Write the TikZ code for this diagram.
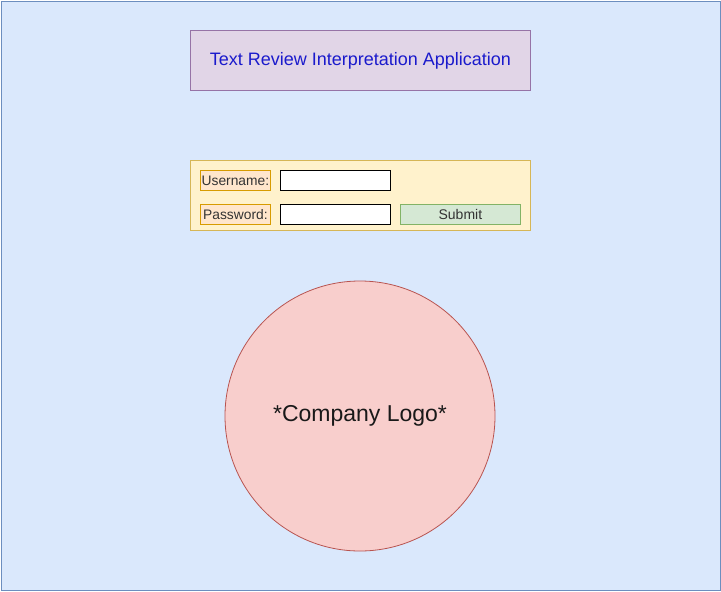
\documentclass[tikz,border=0pt]{standalone}
\usepackage{fontspec}
\setmainfont{Liberation Sans}
\begin{document}
\begin{tikzpicture}[x=1pt,y=-1pt,
  box/.style={draw, line width=0.8pt, inner sep=0pt, anchor=north west},
  lbl/.style={box, fill=labelfill, draw=labeldraw, minimum width=70pt, minimum height=20pt, font=\fontsize{13.8}{15}\selectfont, text=textgray},
  field/.style={box, fill=white, draw=black, minimum width=110pt, minimum height=20pt}]
\definecolor{bgfill}{HTML}{DAE8FC}
\definecolor{bgdraw}{HTML}{6C8EBF}
\definecolor{titlefill}{HTML}{E1D5E7}
\definecolor{titledraw}{HTML}{9673A6}
\definecolor{titletext}{HTML}{1A1ACC}
\definecolor{formfill}{HTML}{FFF2CC}
\definecolor{formdraw}{HTML}{D6B656}
\definecolor{labelfill}{HTML}{FFE6CC}
\definecolor{labeldraw}{HTML}{D79B00}
\definecolor{btnfill}{HTML}{D5E8D4}
\definecolor{btndraw}{HTML}{82B366}
\definecolor{logofill}{HTML}{F8CECC}
\definecolor{logodraw}{HTML}{B85450}
\definecolor{textgray}{HTML}{333333}
\useasboundingbox (0,0) rectangle (721,592);
% page background
\node[box, fill=bgfill, draw=bgdraw, line width=1.2pt, minimum width=719.5pt, minimum height=589.5pt] (page) at (0.6,0.6) {};
% title banner
\node[box, fill=titlefill, draw=titledraw, minimum width=340pt, minimum height=60pt,
  text=titletext, font=\fontsize{18}{21}\selectfont] (title) at (190,30) {\raisebox{-0.5pt}{Text Review Interpretation Application}};
% login form
\node[box, fill=formfill, draw=formdraw, minimum width=340pt, minimum height=70pt] (form) at (190,160) {};
\node[lbl] (ulabel) at (200,170) {Username:};
\node[lbl] (plabel) at (200,204) {Password:};
\node[field] (ufield) at (280,170) {};
\node[field] (pfield) at (280,204) {};
\node[box, fill=btnfill, draw=btndraw, minimum width=120pt, minimum height=20pt,
  font=\fontsize{14}{16}\selectfont, text=textgray] (submit) at (400,204) {Submit};
% logo placeholder
\node[circle, draw=logodraw, fill=logofill, line width=0.8pt, minimum size=270pt, inner sep=0pt,
  font=\fontsize{23}{27}\selectfont, text=black!90] (logo) at (360,416) {\raisebox{-1.5pt}{*Company Logo*}};
\end{tikzpicture}
\end{document}
